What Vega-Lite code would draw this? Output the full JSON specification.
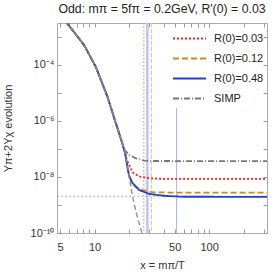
{
  "$schema": "https://vega.github.io/schema/vega-lite/v6.json",
  "width": 210,
  "height": 210,
  "autosize": "none",
  "padding": {"left": 57, "top": 23, "right": 7, "bottom": 41},
  "background": "white",
  "title": {"text": "Odd: mπ = 5fπ = 0.2GeV, R'(0) = 0.03", "font": "Liberation Sans", "fontSize": 12.3, "fontWeight": "normal", "color": "#222", "anchor": "middle", "offset": 6.5},
  "config": {
    "view": {"stroke": "#aaa", "strokeWidth": 1},
    "axis": {"domain": false, "grid": false, "tickColor": "#999", "labelFont": "Liberation Sans", "labelFontSize": 11, "labelColor": "#333", "titleFont": "Liberation Sans", "titleFontSize": 11, "titleFontWeight": "normal", "titleColor": "#333", "labelOverlap": false, "labelFlush": false}
  },
  "datasets": {
    "series": [
      {"s": "R(0)=0.03", "x": 5.5, "y": 4.0e-3},
      {"s": "R(0)=0.03", "x": 5.77, "y": 3.08e-3},
      {"s": "R(0)=0.03", "x": 8.09, "y": 5.18e-4},
      {"s": "R(0)=0.03", "x": 10.24, "y": 8.69e-5},
      {"s": "R(0)=0.03", "x": 12.95, "y": 7.38e-6},
      {"s": "R(0)=0.03", "x": 15.35, "y": 8.28e-7},
      {"s": "R(0)=0.03", "x": 17.3, "y": 1.8e-7},
      {"s": "R(0)=0.03", "x": 18.5, "y": 7.0e-8},
      {"s": "R(0)=0.03", "x": 18.9, "y": 4.77e-8},
      {"s": "R(0)=0.03", "x": 19.8, "y": 3.0e-8},
      {"s": "R(0)=0.03", "x": 21.46, "y": 1.45e-8},
      {"s": "R(0)=0.03", "x": 24.5, "y": 1.05e-8},
      {"s": "R(0)=0.03", "x": 30.06, "y": 9.0e-9},
      {"s": "R(0)=0.03", "x": 40, "y": 8.6e-9},
      {"s": "R(0)=0.03", "x": 100, "y": 8.5e-9},
      {"s": "R(0)=0.03", "x": 320, "y": 8.5e-9},
      {"s": "R(0)=0.12", "x": 5.5, "y": 4.0e-3},
      {"s": "R(0)=0.12", "x": 5.77, "y": 3.08e-3},
      {"s": "R(0)=0.12", "x": 8.09, "y": 5.18e-4},
      {"s": "R(0)=0.12", "x": 10.24, "y": 8.69e-5},
      {"s": "R(0)=0.12", "x": 12.95, "y": 7.38e-6},
      {"s": "R(0)=0.12", "x": 15.35, "y": 8.28e-7},
      {"s": "R(0)=0.12", "x": 17.3, "y": 1.8e-7},
      {"s": "R(0)=0.12", "x": 18.5, "y": 7.0e-8},
      {"s": "R(0)=0.12", "x": 19.48, "y": 1.9e-8},
      {"s": "R(0)=0.12", "x": 20.77, "y": 7.8e-9},
      {"s": "R(0)=0.12", "x": 22.98, "y": 4.5e-9},
      {"s": "R(0)=0.12", "x": 26.26, "y": 3.43e-9},
      {"s": "R(0)=0.12", "x": 32.1, "y": 2.85e-9},
      {"s": "R(0)=0.12", "x": 50, "y": 2.76e-9},
      {"s": "R(0)=0.12", "x": 320, "y": 2.75e-9},
      {"s": "R(0)=0.48", "x": 5.5, "y": 4.0e-3},
      {"s": "R(0)=0.48", "x": 5.77, "y": 3.08e-3},
      {"s": "R(0)=0.48", "x": 8.09, "y": 5.18e-4},
      {"s": "R(0)=0.48", "x": 10.24, "y": 8.69e-5},
      {"s": "R(0)=0.48", "x": 12.95, "y": 7.38e-6},
      {"s": "R(0)=0.48", "x": 15.35, "y": 8.28e-7},
      {"s": "R(0)=0.48", "x": 17.3, "y": 1.8e-7},
      {"s": "R(0)=0.48", "x": 18.5, "y": 7.0e-8},
      {"s": "R(0)=0.48", "x": 19.48, "y": 1.9e-8},
      {"s": "R(0)=0.48", "x": 20.07, "y": 1.03e-8},
      {"s": "R(0)=0.48", "x": 21.46, "y": 5.96e-9},
      {"s": "R(0)=0.48", "x": 24.5, "y": 3.43e-9},
      {"s": "R(0)=0.48", "x": 30.06, "y": 2.47e-9},
      {"s": "R(0)=0.48", "x": 42.1, "y": 2.1e-9},
      {"s": "R(0)=0.48", "x": 60, "y": 1.97e-9},
      {"s": "R(0)=0.48", "x": 320, "y": 1.96e-9},
      {"s": "SIMP", "x": 5.5, "y": 4.0e-3},
      {"s": "SIMP", "x": 5.77, "y": 3.08e-3},
      {"s": "SIMP", "x": 8.09, "y": 5.18e-4},
      {"s": "SIMP", "x": 10.24, "y": 8.69e-5},
      {"s": "SIMP", "x": 12.95, "y": 7.38e-6},
      {"s": "SIMP", "x": 15.35, "y": 8.28e-7},
      {"s": "SIMP", "x": 17.3, "y": 1.8e-7},
      {"s": "SIMP", "x": 18.3, "y": 9.2e-8},
      {"s": "SIMP", "x": 20.07, "y": 6.1e-8},
      {"s": "SIMP", "x": 22.98, "y": 4.66e-8},
      {"s": "SIMP", "x": 27.2, "y": 3.82e-8},
      {"s": "SIMP", "x": 32, "y": 3.73e-8},
      {"s": "SIMP", "x": 100, "y": 3.7e-8},
      {"s": "SIMP", "x": 320, "y": 3.7e-8}
    ],
    "eq": [
      {"x": 5.5, "y": 4.0e-3},
      {"x": 5.77, "y": 3.08e-3},
      {"x": 8.09, "y": 5.18e-4},
      {"x": 10.24, "y": 8.69e-5},
      {"x": 12.95, "y": 7.38e-6},
      {"x": 15.35, "y": 8.28e-7},
      {"x": 17.3, "y": 1.8e-7},
      {"x": 18.5, "y": 7.0e-8},
      {"x": 20.07, "y": 1.03e-8},
      {"x": 21.46, "y": 1.98e-9},
      {"x": 22.98, "y": 5.77e-10},
      {"x": 24.5, "y": 2.22e-10},
      {"x": 25.9, "y": 1.0e-10},
      {"x": 26.6, "y": 7.0e-11}
    ]
  },
  "layer": [
    {
      "data": {"values": [{"x": 26.9}]},
      "mark": {"type": "rule", "color": "#ff8c8c", "strokeDash": [1.5, 2], "strokeWidth": 1.2},
      "encoding": {
        "x": {"field": "x", "type": "quantitative", "scale": {"type": "log", "domain": [4.7, 320], "nice": false},
          "axis": {"orient": "top", "title": null, "labels": false, "tickSize": -4, "values": [5, 6, 7, 8, 9, 10, 20, 30, 40, 50, 60, 70, 80, 90, 100, 200, 300]}}
      }
    },
    {
      "data": {"values": [{"x": 28.9}]},
      "mark": {"type": "rule", "color": "#b9c6f0", "strokeWidth": 2.5},
      "encoding": {"x": {"field": "x", "type": "quantitative", "axis": null}}
    },
    {
      "data": {"values": [{"x": 31.3}]},
      "mark": {"type": "rule", "color": "#f5c47f", "strokeDash": [4, 2], "strokeWidth": 1.2},
      "encoding": {"x": {"field": "x", "type": "quantitative", "axis": null}}
    },
    {
      "data": {"values": [{"x": 52, "y": 1e-10, "y2": 2.9e-6}]},
      "mark": {"type": "rule", "color": "#a9b5ee", "strokeWidth": 1},
      "encoding": {
        "x": {"field": "x", "type": "quantitative", "axis": null},
        "y": {"field": "y", "type": "quantitative", "axis": null},
        "y2": {"field": "y2"}
      }
    },
    {
      "data": {"values": [{"y": 2.05e-9}]},
      "mark": {"type": "rule", "color": "#999", "strokeDash": [1.5, 2.5], "strokeWidth": 1},
      "encoding": {
        "y": {"field": "y", "type": "quantitative", "scale": {"type": "log", "domain": [1e-10, 3.16e-3], "nice": false},
          "axis": {"orient": "right", "title": null, "labels": false, "tickSize": -4, "values": [1e-10, 1e-9, 1e-8, 1e-7, 1e-6, 1e-5, 1e-4, 1e-3]}}
      }
    },
    {
      "data": {"name": "series"},
      "mark": {"type": "line", "strokeWidth": 1.8, "clip": true},
      "encoding": {
        "x": {"field": "x", "type": "quantitative", "scale": {"type": "log", "domain": [4.7, 320], "nice": false},
          "axis": {"orient": "bottom", "title": "x = mπ/T", "titleY": 26, "tickSize": -4, "labelPadding": 12,
            "values": [5, 6, 7, 8, 9, 10, 20, 30, 40, 50, 60, 70, 80, 90, 100, 200, 300],
            "labelExpr": "indexof([5, 10, 50, 100], datum.value) >= 0 ? '' + datum.value : ''"}},
        "y": {"field": "y", "type": "quantitative", "scale": {"type": "log", "domain": [1e-10, 3.16e-3], "nice": false},
          "axis": {"orient": "left", "title": "Yπ+2Yχ evolution", "titleX": -49, "titleBaseline": "middle", "tickSize": -4, "labelPadding": 7,
            "values": [1e-10, 1e-9, 1e-8, 1e-7, 1e-6, 1e-5, 1e-4, 1e-3],
            "labelExpr": "round(log(datum.value)/LN10) == -4 ? '10⁻⁴' : round(log(datum.value)/LN10) == -6 ? '10⁻⁶' : round(log(datum.value)/LN10) == -8 ? '10⁻⁸' : round(log(datum.value)/LN10) == -10 ? '10⁻¹⁰' : ''"}},
        "color": {"field": "s", "type": "nominal",
          "scale": {"domain": ["R(0)=0.03", "R(0)=0.12", "R(0)=0.48", "SIMP"], "range": ["#ff1a1a", "#cc8a1a", "#1f40c8", "#777777"]},
          "legend": {"orient": "none", "legendX": 126, "legendY": 9, "title": null, "symbolType": "M-3,0H3", "symbolSize": 121, "symbolStrokeWidth": 2, "labelFont": "Liberation Sans", "labelFontSize": 11, "labelColor": "#222", "labelOffset": 18, "rowPadding": 8, "padding": 0, "symbolOffset": 0}},
        "strokeDash": {"field": "s", "type": "nominal",
          "scale": {"domain": ["R(0)=0.03", "R(0)=0.12", "R(0)=0.48", "SIMP"], "range": [[2, 2], [6, 3], [1, 0], [6, 2, 1, 2]]},
          "legend": {"orient": "none", "legendX": 126, "legendY": 9, "title": null, "symbolType": "M-3,0H3", "symbolSize": 121, "symbolStrokeWidth": 2, "labelFont": "Liberation Sans", "labelFontSize": 11, "labelColor": "#222", "labelOffset": 18, "rowPadding": 8, "padding": 0, "symbolOffset": 0}}
      }
    },
    {
      "data": {"name": "eq"},
      "mark": {"type": "line", "color": "#8a8a8a", "strokeWidth": 1.3, "strokeDash": [5, 3], "clip": true},
      "encoding": {
        "x": {"field": "x", "type": "quantitative", "axis": null},
        "y": {"field": "y", "type": "quantitative", "axis": null}
      }
    }
  ],
  "resolve": {"axis": {"x": "independent", "y": "independent"}}
}
